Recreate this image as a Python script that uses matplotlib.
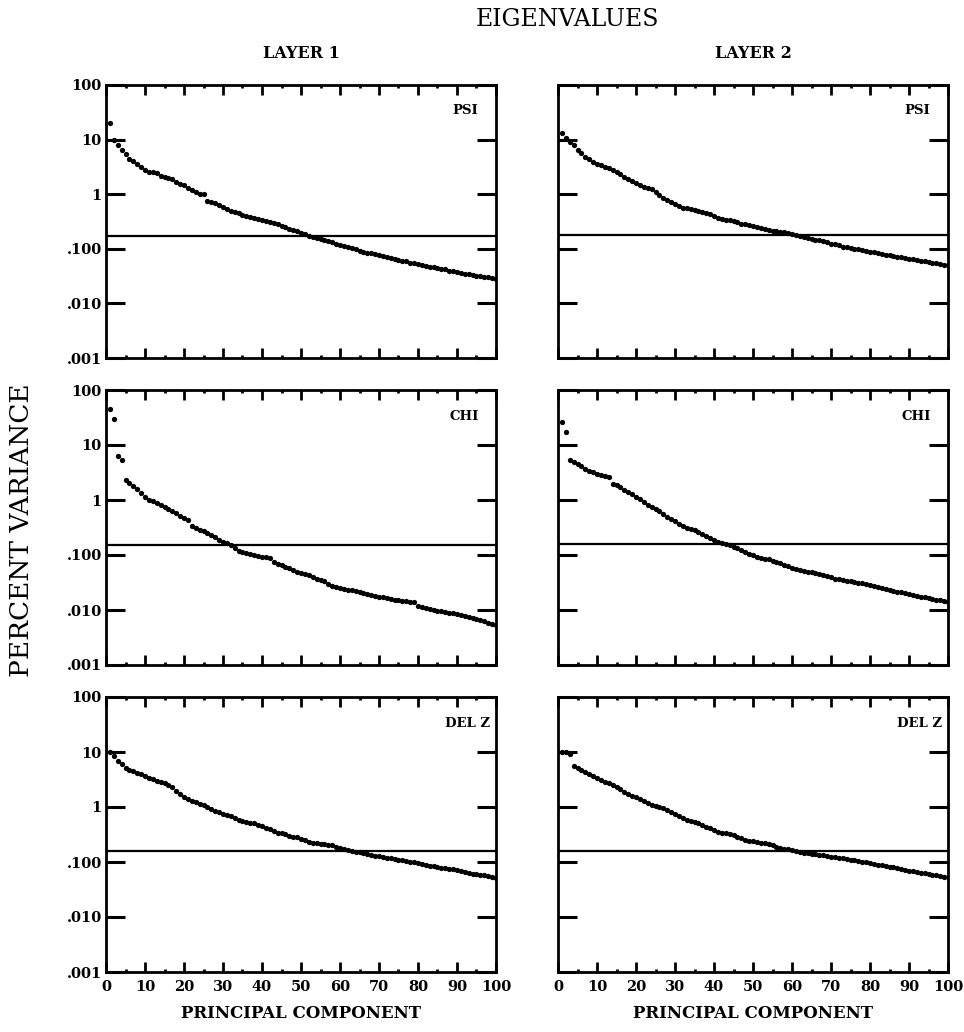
import matplotlib
matplotlib.use("Agg")
import matplotlib.pyplot as plt
from matplotlib.ticker import FixedLocator, NullFormatter

components = list(range(1, 101))

psi_layer1 = [20, 10, 7.9, 6.5, 5.4, 4.5, 4.0, 3.5, 3.2, 2.8,
              2.6, 2.5, 2.4, 2.2, 2.1, 2.0, 1.86, 1.70, 1.55, 1.45,
              1.32, 1.20, 1.10, 1.02, 1.00, 0.76, 0.71, 0.68, 0.63, 0.58,
              0.54, 0.50, 0.48, 0.45, 0.42, 0.40, 0.38, 0.37, 0.355, 0.34,
              0.32, 0.31, 0.295, 0.28, 0.263, 0.251, 0.234, 0.224, 0.209, 0.195,
              0.186, 0.174, 0.166, 0.158, 0.151, 0.145, 0.138, 0.132, 0.123, 0.117,
              0.112, 0.107, 0.102, 0.098, 0.093, 0.089, 0.085, 0.083, 0.079, 0.076,
              0.074, 0.071, 0.068, 0.066, 0.063, 0.060, 0.059, 0.056, 0.054, 0.052,
              0.050, 0.049, 0.047, 0.046, 0.044, 0.043, 0.042, 0.040, 0.039, 0.038,
              0.036, 0.035, 0.035, 0.033, 0.032, 0.032, 0.031, 0.030, 0.029, 0.028]

psi_layer2 = [13, 10.5, 9.0, 7.8, 6.5, 5.6, 4.9, 4.4, 3.9, 3.6,
              3.4, 3.2, 3.0, 2.8, 2.6, 2.3, 2.1, 1.9, 1.75, 1.6,
              1.45, 1.35, 1.30, 1.25, 1.10, 0.95, 0.85, 0.78, 0.72, 0.65,
              0.60, 0.57, 0.55, 0.53, 0.51, 0.49, 0.47, 0.45, 0.43, 0.40,
              0.37, 0.35, 0.34, 0.33, 0.32, 0.31, 0.29, 0.28, 0.27, 0.26,
              0.25, 0.24, 0.235, 0.225, 0.215, 0.21, 0.205, 0.20, 0.195, 0.19,
              0.18, 0.172, 0.165, 0.158, 0.152, 0.148, 0.143, 0.138, 0.132, 0.125,
              0.12, 0.115, 0.11, 0.107, 0.104, 0.101, 0.098, 0.095, 0.092, 0.089,
              0.086, 0.084, 0.081, 0.078, 0.076, 0.074, 0.072, 0.070, 0.068, 0.066,
              0.064, 0.062, 0.061, 0.059, 0.057, 0.056, 0.054, 0.053, 0.051, 0.050]

chi_layer1 = [45, 30, 6.3, 5.4, 2.3, 2.0, 1.8, 1.6, 1.35, 1.15,
              1.0, 0.95, 0.88, 0.80, 0.74, 0.68, 0.62, 0.57, 0.52, 0.47,
              0.43, 0.34, 0.31, 0.29, 0.27, 0.25, 0.23, 0.21, 0.19, 0.175,
              0.162, 0.15, 0.135, 0.12, 0.113, 0.107, 0.103, 0.099, 0.096, 0.093,
              0.091, 0.089, 0.075, 0.070, 0.065, 0.061, 0.057, 0.053, 0.050, 0.047,
              0.045, 0.043, 0.040, 0.037, 0.035, 0.033, 0.030, 0.027, 0.026, 0.025,
              0.024, 0.0235, 0.023, 0.022, 0.021, 0.020, 0.0195, 0.019, 0.018, 0.0175,
              0.017, 0.0165, 0.016, 0.0155, 0.015, 0.0148, 0.0145, 0.014, 0.0138, 0.012,
              0.0115, 0.011, 0.0105, 0.0100, 0.0097, 0.0094, 0.0091, 0.0089, 0.0087, 0.0085,
              0.0082, 0.0079, 0.0076, 0.0073, 0.0069, 0.0066, 0.0062, 0.0059, 0.0056, 0.0054]

chi_layer2 = [26, 17, 5.4, 5.0, 4.6, 4.1, 3.6, 3.4, 3.2, 3.0,
              2.8, 2.7, 2.6, 1.95, 1.85, 1.7, 1.5, 1.4, 1.3, 1.15,
              1.05, 0.92, 0.80, 0.74, 0.68, 0.62, 0.56, 0.50, 0.45, 0.41,
              0.37, 0.34, 0.31, 0.30, 0.28, 0.26, 0.24, 0.22, 0.20, 0.185,
              0.175, 0.165, 0.158, 0.15, 0.14, 0.132, 0.124, 0.115, 0.106, 0.098,
              0.093, 0.089, 0.086, 0.083, 0.079, 0.075, 0.071, 0.066, 0.062, 0.058,
              0.056, 0.054, 0.052, 0.050, 0.049, 0.047, 0.045, 0.043, 0.041, 0.039,
              0.037, 0.036, 0.035, 0.034, 0.033, 0.032, 0.031, 0.031, 0.030, 0.028,
              0.027, 0.026, 0.025, 0.024, 0.023, 0.022, 0.021, 0.021, 0.020, 0.0195,
              0.019, 0.018, 0.0175, 0.017, 0.0165, 0.016, 0.0155, 0.015, 0.0145, 0.014]

delz_layer1 = [10, 8.5, 7.0, 6.0, 5.1, 4.8, 4.5, 4.2, 3.9, 3.6,
               3.4, 3.2, 3.0, 2.9, 2.7, 2.5, 2.3, 1.95, 1.7, 1.55,
               1.4, 1.3, 1.22, 1.15, 1.08, 1.0, 0.93, 0.86, 0.80, 0.76,
               0.72, 0.68, 0.63, 0.58, 0.55, 0.53, 0.52, 0.51, 0.48, 0.45,
               0.42, 0.39, 0.36, 0.34, 0.33, 0.32, 0.30, 0.29, 0.28, 0.265,
               0.25, 0.235, 0.225, 0.22, 0.215, 0.21, 0.205, 0.20, 0.19, 0.18,
               0.17, 0.165, 0.16, 0.155, 0.15, 0.145, 0.14, 0.135, 0.13, 0.127,
               0.123, 0.12, 0.116, 0.113, 0.11, 0.107, 0.104, 0.101, 0.098, 0.095,
               0.092, 0.089, 0.086, 0.083, 0.081, 0.079, 0.077, 0.076, 0.074, 0.072,
               0.069, 0.066, 0.063, 0.061, 0.060, 0.059, 0.057, 0.055, 0.053, 0.052]

delz_layer2 = [10, 9.8, 9.2, 5.6, 5.1, 4.8, 4.4, 4.0, 3.7, 3.4,
               3.1, 2.9, 2.7, 2.5, 2.3, 2.1, 1.9, 1.75, 1.6, 1.5,
               1.4, 1.28, 1.18, 1.1, 1.05, 1.0, 0.95, 0.89, 0.82, 0.75,
               0.68, 0.62, 0.58, 0.56, 0.54, 0.51, 0.47, 0.44, 0.41, 0.38,
               0.35, 0.34, 0.33, 0.32, 0.31, 0.29, 0.27, 0.255, 0.245, 0.24,
               0.235, 0.225, 0.22, 0.21, 0.20, 0.19, 0.18, 0.175, 0.17, 0.165,
               0.158, 0.152, 0.148, 0.145, 0.142, 0.138, 0.135, 0.132, 0.128, 0.125,
               0.122, 0.119, 0.116, 0.113, 0.11, 0.107, 0.104, 0.101, 0.098, 0.096,
               0.093, 0.090, 0.087, 0.085, 0.082, 0.080, 0.078, 0.075, 0.072, 0.070,
               0.068, 0.066, 0.064, 0.062, 0.061, 0.059, 0.057, 0.056, 0.054, 0.053]

# reference (noise) level drawn as a horizontal line in each panel
ref_level = [[0.17, 0.18], [0.155, 0.158], [0.158, 0.158]]

variables = ["PSI", "CHI", "DEL Z"]
layers = ["LAYER 1", "LAYER 2"]
series = [[psi_layer1, psi_layer2], [chi_layer1, chi_layer2], [delz_layer1, delz_layer2]]

y_ticks = [0.001, 0.01, 0.1, 1, 10, 100]
y_tick_labels = [".001", ".010", ".100", "1", "10", "100"]
x_major = list(range(0, 101, 10))
x_minor = list(range(5, 100, 10))
x_tick_labels = [str(v) for v in x_major]

FIG_W, FIG_H = 964, 1032
fig = plt.figure(figsize=(FIG_W / 100, FIG_H / 100), dpi=100)

SERIF = ["DejaVu Serif"]

col_left = [106, 558]
col_width = 390
row_top = [85, 390, 697]
row_height = [273, 275, 275]
label_x = [0.955, 0.955, 0.985]

for r in range(3):
    for c in range(2):
        l = col_left[c] / FIG_W
        b = 1 - (row_top[r] + row_height[r]) / FIG_H
        w = col_width / FIG_W
        h = row_height[r] / FIG_H
        ax = fig.add_axes([l, b, w, h])
        ax.set_yscale("log")
        ax.set_xlim(0, 100)
        ax.set_ylim(0.001, 100)
        ax.plot(components, series[r][c], linestyle="none", marker="o",
                markersize=3.8, color="black", markeredgewidth=0)
        ax.axhline(ref_level[r][c], color="black", linewidth=1.6)
        for s in ax.spines.values():
            s.set_linewidth(2.0)
        ax.yaxis.set_major_locator(FixedLocator(y_ticks))
        ax.yaxis.set_minor_locator(FixedLocator([]))
        ax.xaxis.set_major_locator(FixedLocator(x_major))
        ax.xaxis.set_minor_locator(FixedLocator(x_minor))
        ax.tick_params(axis="y", which="major", direction="in", length=14, width=2.2,
                       left=True, right=True, pad=3)
        ax.tick_params(axis="x", which="major", direction="in", length=7, width=2.0,
                       top=True, bottom=True, pad=6)
        ax.tick_params(axis="x", which="minor", direction="in", length=2.5, width=2.0,
                       top=True, bottom=True)
        if c == 0:
            ax.set_yticklabels(y_tick_labels, fontfamily=SERIF, fontweight="bold", fontsize=10.5)
        else:
            ax.yaxis.set_major_formatter(NullFormatter())
        if r == 2:
            ax.set_xticklabels(x_tick_labels, fontfamily=SERIF, fontweight="bold", fontsize=10.5)
            ax.set_xlabel("PRINCIPAL COMPONENT", fontfamily=SERIF, fontweight="bold",
                          fontsize=12, labelpad=8)
        else:
            ax.xaxis.set_major_formatter(NullFormatter())
        ax.text(label_x[r], 0.905, variables[r], transform=ax.transAxes, ha="right",
                va="center", fontfamily=SERIF, fontweight="bold", fontsize=9.5)
        if r == 0:
            ax.text(0.5, 1.115, layers[c], transform=ax.transAxes, ha="center",
                    va="center", fontfamily=SERIF, fontweight="bold", fontsize=11.5)

fig.text(567 / FIG_W, 1 - 20 / FIG_H, "EIGENVALUES", ha="center", va="center",
         fontfamily=SERIF, fontsize=17)
fig.text(22 / FIG_W, 1 - 530 / FIG_H, "PERCENT VARIANCE", ha="center", va="center",
         rotation=90, fontfamily=SERIF, fontsize=19)

fig.savefig("out.png", dpi=100, facecolor="white")
